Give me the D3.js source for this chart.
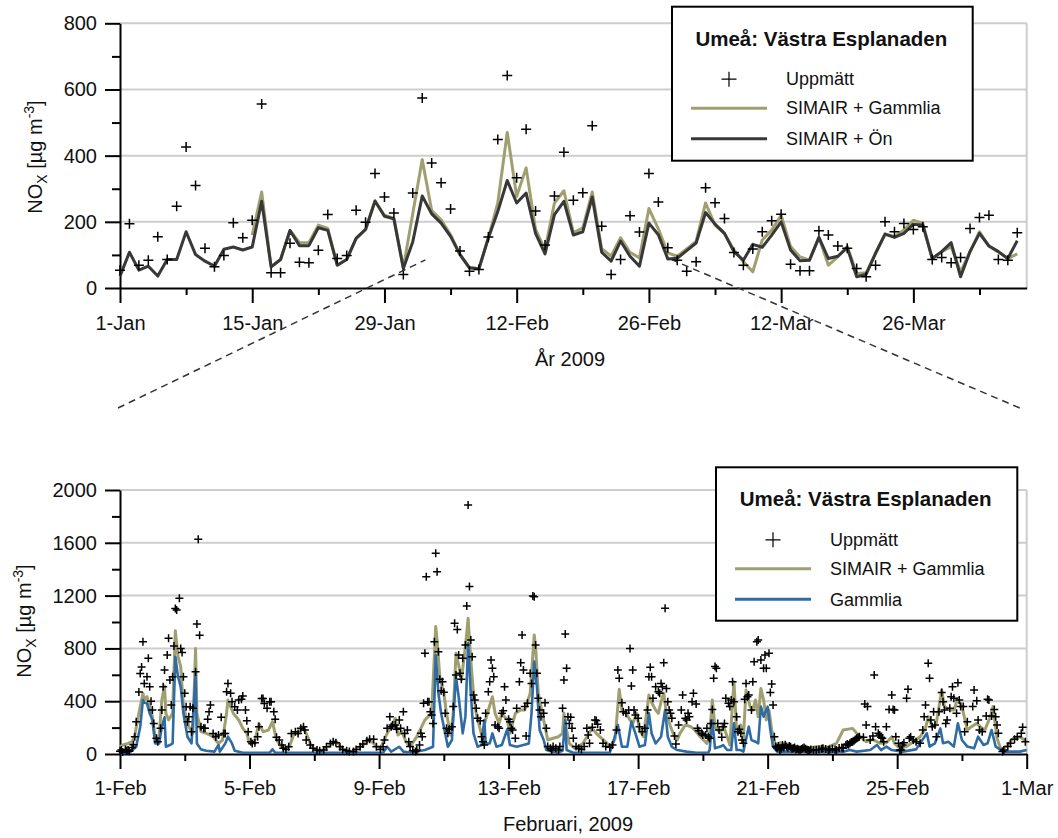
<!DOCTYPE html>
<html>
<head>
<meta charset="utf-8">
<script src="https://cdn.jsdelivr.net/npm/d3@7"></script>
<style>
  body { margin: 0; background: #fff; }
  svg { display: block; font-family: "Liberation Sans", Arial, Helvetica, sans-serif; }
</style>
</head>
<body>
<svg id="chart" width="1058" height="838"></svg>
<script>
// ---------- Daily means, 1 Jan – 6 Apr 2009 (µg/m3) ----------
const dailyStart = new Date(2009, 0, 1);

const measuredDaily = [
  54, 194, 69, 84, 155, 86, 247, 426, 310, 120,
  64, 98, 197, 152, 205, 556, 46, 46, 135, 78,
  76, 114, 222, 89, 98, 235, 199, 346, 275, 227,
  41, 287, 574, 378, 318, 239, 112, 51, 56, 154,
  449, 642, 333, 480, 233, 130, 278, 410, 265, 288,
  490, 187, 41, 86, 218, 169, 346, 260, 122, 84,
  51, 79, 303, 258, 210, 107, 69, 118, 170, 203,
  223, 72, 52, 52, 173, 160, 127, 120, 59, 34,
  69, 200, 170, 195, 177, 185, 86, 92, 76, 92,
  180, 213, 220, 86, 84, 167
];

const simairGammliaDaily = [
  null, null, null, null, null, null, null, null, null, null,
  null, null, null, null, 160, 290, 64, 86, 174, 137,
  137, 190, 180, 69, 86, 150, 177, 263, 220, 210,
  61, 225, 388, 234, 206, 161, 101, 61, 58, 151,
  257, 470, 277, 363, 177, 116, 257, 294, 167, 182,
  290, 119, 96, 152, 108, 91, 240, 179, 106, 96,
  118, 141, 257, 190, 165, 115, 79, 49, 145, 175,
  220, 125, 94, 84, 153, 69, 94, 125, 44, 46,
  105, 163, 155, 175, 205, 195, 89, 110, 125, 49,
  110, 170, 127, 110, 89, 103
];

const simairOnDaily = [
  36, 108, 54, 66, 36, 86, 86, 170, 101, 81,
  66, 117, 124, 115, 124, 262, 64, 86, 174, 128,
  128, 182, 174, 69, 86, 150, 177, 263, 217, 209,
  59, 140, 278, 224, 196, 156, 101, 61, 58, 151,
  231, 325, 257, 287, 165, 103, 222, 262, 160, 170,
  275, 108, 81, 142, 96, 66, 196, 161, 88, 90,
  113, 136, 228, 193, 165, 110, 84, 132, 123, 160,
  200, 115, 82, 84, 153, 89, 96, 122, 34, 41,
  105, 163, 153, 165, 193, 190, 89, 110, 137, 34,
  110, 165, 127, 110, 89, 143
];

// ---------- Hourly values, February 2009: [hours after 1 Feb 00:00, µg/m3] ----------
const hourlyStart = new Date(2009, 1, 1);

const measuredHourly = [
  [0,20],[1,30],[2,15],[4,35],[5,25],[6,30],[7,20],[9,50],[10,70],[11,130],[12,245],[14,470],[15,610],[16,660],[17,850],[18,535],[20,585],[21,725],[22,510],[23,400],
  [24,333],[25,232],[27,119],[28,93],[30,195],[31,333],[32,510],[33,636],[35,750],[36,876],[37,560],[38,371],[39,585],[40,818],[41,1103],[42,1090],[44,1180],[45,800],[46,768],[47,585],
  [48,460],[49,358],[50,245],[51,283],[52,358],[53,169],[54,346],[56,624],[57,985],[58,1626],[59,900],[60,207],[62,195],[63,195],[65,263],[66,320],[67,371],[69,156],[71,131],
  [73,143],[75,278],[77,156],[78,156],[79,472],[80,535],[82,460],[83,396],[85,358],[87,333],[88,409],[90,414],[91,440],[93,333],[94,252],[95,169],
  [97,93],[98,80],[100,86],[102,131],[103,207],[105,421],[106,421],[107,383],[109,346],[111,396],[112,396],[114,320],[115,263],[116,126],[118,106],
  [120,68],[121,43],[123,35],[125,55],[127,156],[130,169],[132,156],[134,195],[136,207],[137,181],[138,106],[141,68],[143,43],
  [146,30],[148,25],[151,30],[153,55],[156,80],[158,93],[160,86],[163,55],[165,35],[168,25],
  [170,18],[173,18],[175,35],[178,55],[180,76],[183,101],[185,111],[188,111],[190,55],
  [193,35],[195,55],[196,106],[198,195],[200,283],[201,207],[202,220],[204,220],[205,187],[207,258],[208,195],[210,320],[211,156],[213,181],[214,93],
  [215,56],[217,25],[219,18],[220,30],[222,68],[223,157],[224,131],[225,384],[226,763],[227,1343],[228,396],[229,396],[230,320],[231,295],[232,232],[233,851],[234,1520],[235,1381],[236,775],[237,566],[238,480],[239,548],
  [240,467],[241,308],[242,195],[243,157],[244,187],[246,207],[247,359],[248,990],[249,598],[250,944],[251,750],[252,611],[253,566],[254,725],[256,826],[257,1121],[258,1886],[259,1268],[260,864],[261,737],[262,447],[263,409],
  [264,346],[265,270],[267,252],[268,131],[269,93],[270,68],[271,308],[273,472],[274,548],[275,712],[276,649],[277,586],[278,220],[280,207],[281,195],[283,308],[284,328],[285,510],[286,409],
  [288,263],[289,245],[290,195],[291,182],[293,119],[294,346],[296,548],[297,692],[298,902],[299,636],[300,359],[301,136],[302,384],[304,611],[305,535],[306,1197],[307,1192],[308,826],[309,611],[310,422],[311,333],
  [312,283],[314,308],[315,389],[316,195],[317,56],[319,43],[320,30],[321,56],[323,43],[325,30],[326,56],[328,346],[329,561],[330,909],[331,649],[332,283],[333,232],[334,278],[335,195],
  [336,119],[338,56],[340,43],[342,35],[344,56],[346,195],[347,144],[348,81],[350,202],[352,258],[353,253],[354,225],[356,182],[358,81],
  [360,56],[363,51],[365,68],[368,182],[369,636],[370,573],[372,389],[373,320],[375,308],[377,333],[378,800],[379,515],[380,636],[381,333],[382,295],
  [384,270],[385,207],[387,169],[389,195],[391,333],[392,586],[393,657],[394,586],[395,422],[397,510],[399,472],[400,460],[401,535],[402,510],[403,692],[404,1104],[405,497],[406,396],[407,333],
  [408,308],[409,270],[411,136],[412,76],[414,220],[416,333],[417,447],[419,270],[420,258],[421,308],[422,283],[424,396],[425,460],[427,379],[428,195],[429,177],[431,157],
  [432,144],[434,144],[435,195],[436,131],
  [437,119],[438,232],[439,338],[440,573],[441,662],[442,649],[443,232],[444,182],[446,126],[447,207],[448,232],[449,422],[451,384],[452,359],[453,409],[454,548],[455,396],
  [457,283],[458,169],[459,187],[460,157],[461,106],[462,81],[463,414],[464,535],[465,434],[466,447],[468,333],[469,548],[470,699],[472,851],[473,864],[475,712],[477,649],[478,750],[479,649],
  [481,763],[482,465],[483,530],[484,371],[485,131],[486,56],[487,45],[488,60],[489,30],[490,40],[491,68],[492,50],[493,70],[494,56],[495,48],[496,61],[497,55],[498,40],[499,43],[500,50],[501,35],[502,40],[503,35],
  [504,30],[505,38],[506,43],[507,50],[508,40],[509,35],[510,30],[511,25],[512,35],[514,28],[516,30],[518,35],[520,40],[521,43],[523,38],[525,30],[526,35],
  [528,40],[530,35],[531,30],[533,45],[535,50],[536,43],[538,68],[539,75],[540,70],[541,81],[542,90],[543,93],[544,100],[545,110],[546,119],[547,125],[548,131],[551,126],
  [552,379],[553,220],[554,359],[556,106],[558,136],[559,598],[560,207],[562,157],[563,144],[564,126],[565,119],[566,93],[568,207],[570,338],[572,447],[573,338],[574,333],[575,131],
  [577,81],[578,30],[579,30],[580,68],[581,86],[583,422],[584,490],[585,119],[586,131],[588,106],[590,93],[593,81],[595,182],[596,283],[597,371],[599,687],
  [600,573],[601,258],[602,207],[603,321],[604,220],[605,131],[607,321],[609,465],[610,396],[611,333],[612,232],[613,258],[615,346],[616,434],[617,510],[618,422],[620,308],[621,540],[622,409],[623,359],
  [625,359],[626,169],[628,245],[632,359],[633,485],[635,404],[636,258],[637,182],[639,169],[642,288],[643,414],[644,409],[646,288],[648,338],
  [649,283],[650,220],[651,157],[654,18],[655,30],[658,56],[660,81],[663,111],[665,131],[668,157],[669,202],[671,93]
];

const simairGammliaHourly = [
  [0,55],[2,68],[6,80],[9,93],[11,144],[14,308],[17,460],[18,409],[20,434],[22,358],[24,283],[26,131],[29,131],[31,409],[33,515],[34,308],[36,258],[39,308],[41,934],[43,737],[45,662],[47,358],
  [51,207],[54,156],[56,800],[57,308],[60,169],[64,156],[69,131],[73,80],[76,106],[79,308],[80,409],[84,308],[88,258],[91,195],[94,156],[96,80],
  [100,106],[103,232],[106,169],[110,181],[113,245],[116,106],[120,55],[123,35],[126,68],[129,156],[132,156],[135,202],[138,156],[141,80],[144,35],
  [149,25],[154,55],[160,101],[165,35],[172,18],[180,68],[185,111],[189,68],[193,43],[198,156],[201,207],[204,270],[206,144],[209,169],[212,93],
  [215,56],[220,131],[226,258],[231,308],[234,965],[235,864],[237,586],[240,460],[242,308],[245,144],[247,308],[249,763],[251,674],[253,561],[256,813],[258,1028],[260,712],[262,460],
  [264,308],[268,144],[271,258],[273,333],[276,434],[278,308],[281,232],[283,308],[287,258],[289,156],[293,308],[297,333],[300,333],[304,460],[307,902],[308,813],[310,460],
  [313,308],[315,207],[317,106],[321,119],[325,131],[328,156],[329,308],[331,181],[333,80],[337,43],[343,80],[350,195],[353,156],[357,119],
  [361,80],[364,55],[367,119],[370,490],[372,333],[375,308],[378,258],[380,232],[383,308],[385,181],[388,131],[392,447],[393,409],[397,333],[399,308],[401,396],[403,460],[405,308],
  [408,207],[410,156],[413,106],[415,156],[419,220],[423,207],[426,181],[430,131],[435,80],
  [437,144],[439,409],[441,207],[445,157],[447,220],[450,131],[452,68],[455,548],[457,182],[460,220],[462,119],[464,485],[467,359],[469,333],[471,409],[473,283],[475,497],[477,409],[479,258],
  [481,333],[483,182],[486,56],[489,86],[494,68],[501,56],[509,43],[516,56],[524,51],[531,81],[536,182],[543,194],[546,157],[553,93],[558,111],[563,81],[568,86],[572,131],[574,81],[578,43],
  [583,56],[588,93],[593,131],[597,194],[599,283],[602,207],[605,232],[609,485],[611,359],[615,333],[618,333],[621,422],[624,359],[628,182],[631,207],[635,232],[639,194],[641,182],
  [645,283],[647,359],[650,119],[653,30],[657,56],[662,119],[667,131],[672,93]
];

const gammliaHourly = [
  [0,5],[7,10],[12,55],[15,207],[17,409],[18,389],[20,384],[22,308],[24,258],[26,80],[29,80],[31,207],[33,278],[34,55],[37,68],[39,80],[41,737],[43,586],[45,510],[47,308],
  [50,131],[53,80],[56,611],[57,80],[60,35],[64,25],[70,18],[73,68],[74,18],[78,80],[80,131],[83,80],[85,25],[91,10],[111,10],[113,35],[115,10],
  [195,10],[198,55],[201,18],[207,55],[210,18],
  [215,10],[226,30],[232,55],[234,750],[236,460],[238,308],[241,156],[243,55],[246,106],[249,586],[251,434],[254,156],[256,283],[258,838],[260,460],[262,156],
  [265,55],[268,68],[270,258],[271,80],[274,80],[276,156],[279,55],[283,68],[287,187],[289,68],[294,55],[299,68],[303,80],[305,308],[307,700],[309,510],[311,181],
  [314,106],[316,30],[324,10],[328,25],[330,258],[331,30],[336,10],[363,10],[366,106],[369,220],[372,55],[376,55],[379,245],[382,156],[385,55],[389,68],
  [392,308],[394,156],[397,80],[401,131],[404,333],[406,131],[409,55],[413,30],[420,18],[427,10],[436,10],
  [437,30],[439,258],[441,43],[445,56],[447,68],[450,30],[453,30],[455,232],[457,30],[460,30],[462,18],[466,207],[468,106],[471,93],[473,81],[475,359],[477,283],[479,333],[480,359],
  [482,182],[484,56],[487,18],[536,18],[541,30],[546,18],[556,30],[561,68],[564,30],[568,56],[572,30],[580,18],[590,35],[598,157],[600,56],[604,81],[608,194],[610,81],
  [614,93],[618,56],[621,232],[624,106],[628,56],[633,43],[636,131],[640,68],[643,81],[646,182],[649,56],[655,18],[667,18],[672,30]
];

// ---------- Axis ticks and labels ----------
const topYTicks = [0, 200, 400, 600, 800];
const topYMinor = [100, 300, 500, 700];
const topXTicks = [[2009,0,1],[2009,0,15],[2009,0,29],[2009,1,12],[2009,1,26],[2009,2,12],[2009,2,26]];
const topXMinor = [[2009,0,8],[2009,0,22],[2009,1,5],[2009,1,19],[2009,2,5],[2009,2,19],[2009,3,2]];
const botYTicks = [0, 400, 800, 1200, 1600, 2000];
const botYMinor = [200, 600, 1000, 1400, 1800];
const botXTicks = [[2009,1,1],[2009,1,5],[2009,1,9],[2009,1,13],[2009,1,17],[2009,1,21],[2009,1,25],[2009,2,1]];
const botXMinor = [[2009,1,3],[2009,1,7],[2009,1,11],[2009,1,15],[2009,1,19],[2009,1,23],[2009,1,27]];

const legendTitle = "Umeå: Västra Esplanaden";
const topSeriesNames = ["Uppmätt", "SIMAIR + Gammlia", "SIMAIR + Ön"];
const botSeriesNames = ["Uppmätt", "SIMAIR + Gammlia", "Gammlia"];
const topXTitle = "År 2009";
const botXTitle = "Februari, 2009";

// ---------- Styles ----------
const C_OLIVE = "#a09f70";
const C_DARK = "#383838";
const C_BLUE = "#2f6ba4";
const C_GRID = "#cdcdcd";
const FS_TICK = 20;

const svg = d3.select("#chart");
const toDate = a => new Date(a[0], a[1], a[2]);
const fmt = d3.timeFormat("%-d-%b");
const fmtY = d3.format("d");

// ---------- Scales ----------
const xTop = d3.scaleTime().domain([new Date(2009,0,1), new Date(2009,3,7)]).range([120, 1026.7]);
const yTop = d3.scaleLinear().domain([0, 800]).range([288, 23.3]);
const xBot = d3.scaleTime().domain([new Date(2009,1,1), new Date(2009,2,1)]).range([120, 1026.7]);
const yBot = d3.scaleLinear().domain([0, 2000]).range([754, 490]);

function drawFrame(x, y, yTicks, yMinor, xTicks, xMinor, gridVals, xPad) {
  const g = svg.append("g");
  const [xa, xb] = x.range();
  const [y0, y1] = y.range();
  // gridlines
  g.selectAll("line.grid").data(gridVals).join("line")
    .attr("x1", xa).attr("x2", xb)
    .attr("y1", d => y(d)).attr("y2", d => y(d))
    .attr("stroke", C_GRID).attr("stroke-width", 2);
  // right frame edge
  g.append("line").attr("x1", xb).attr("x2", xb).attr("y1", y0).attr("y2", y1)
    .attr("stroke", C_GRID).attr("stroke-width", 2);

  const style = sel => {
    sel.selectAll("path.domain").attr("stroke", "#000").attr("stroke-width", 2);
    sel.selectAll(".tick line").attr("stroke", "#000").attr("stroke-width", 2);
    sel.selectAll("text").attr("font-size", FS_TICK).attr("fill", "#111")
      .attr("font-family", "'Liberation Sans', Arial, sans-serif");
  };
  // x axis
  const gx = g.append("g").attr("transform", `translate(0,${y0})`)
    .call(d3.axisBottom(x).tickValues(xTicks.map(toDate)).tickFormat(fmt)
      .tickSize(15).tickSizeOuter(0).tickPadding(xPad));
  style(gx);
  const gxm = g.append("g").attr("transform", `translate(0,${y0})`)
    .call(d3.axisBottom(x).tickValues(xMinor.map(toDate)).tickFormat("").tickSize(7).tickSizeOuter(0));
  gxm.select("path.domain").remove();
  style(gxm);
  // y axis
  const gy = g.append("g").attr("transform", `translate(${xa},0)`)
    .call(d3.axisLeft(y).tickValues(yTicks).tickFormat(fmtY).tickSize(15).tickSizeOuter(0).tickPadding(8));
  style(gy);
  const gym = g.append("g").attr("transform", `translate(${xa},0)`)
    .call(d3.axisLeft(y).tickValues(yMinor).tickFormat("").tickSize(8).tickSizeOuter(0));
  gym.select("path.domain").remove();
  style(gym);
  return g;
}

function yTitle(xPos, yCenter) {
  const t = svg.append("text")
    .attr("transform", `translate(${xPos},${yCenter}) rotate(-90)`)
    .attr("text-anchor", "middle").attr("font-size", FS_TICK).attr("fill", "#111");
  t.append("tspan").text("NO");
  t.append("tspan").attr("font-size", 14).attr("dy", 5).text("X");
  t.append("tspan").attr("dy", -5).text(" [µg m");
  t.append("tspan").attr("font-size", 14).attr("dy", -8).text("-3");
  t.append("tspan").attr("dy", 8).text("]");
}

const crossPath = r => `M${-r},0H${r}M0,${-r}V${r}`;

// ---------- Top panel: daily means ----------
drawFrame(xTop, yTop, topYTicks, topYMinor, topXTicks, topXMinor, [200, 400, 600, 800], 13);

const daily = measuredDaily.map((v, i) => ({
  date: d3.timeDay.offset(dailyStart, i),
  meas: v, gam: simairGammliaDaily[i], on: simairOnDaily[i]
}));

const lineGam = d3.line().defined(d => d.gam != null).x(d => xTop(d.date)).y(d => yTop(d.gam));
const lineOn = d3.line().x(d => xTop(d.date)).y(d => yTop(d.on));

svg.append("path").datum(daily).attr("d", lineGam)
  .attr("fill", "none").attr("stroke", C_OLIVE).attr("stroke-width", 3).attr("stroke-linejoin", "round");
svg.append("path").datum(daily).attr("d", lineOn)
  .attr("fill", "none").attr("stroke", C_DARK).attr("stroke-width", 3).attr("stroke-linejoin", "round");
svg.append("g").selectAll("path").data(daily).join("path")
  .attr("transform", d => `translate(${xTop(d.date)},${yTop(d.meas)})`)
  .attr("d", crossPath(5)).attr("stroke", "#000").attr("stroke-width", 1.5).attr("fill", "none");

yTitle(42, 157);
svg.append("text").attr("x", 570).attr("y", 366).attr("text-anchor", "middle")
  .attr("font-size", FS_TICK).attr("fill", "#111").text(topXTitle);

// ---------- Bottom panel: hourly values ----------
drawFrame(xBot, yBot, botYTicks, botYMinor, botXTicks, botXMinor, [400, 800, 1200, 1600, 2000], 12);

const hx = h => xBot(d3.timeHour.offset(hourlyStart, h));
const lineH = d3.line().x(d => hx(d[0])).y(d => yBot(d[1]));

svg.append("path").datum(simairGammliaHourly).attr("d", lineH)
  .attr("fill", "none").attr("stroke", C_OLIVE).attr("stroke-width", 3).attr("stroke-linejoin", "round");
svg.append("path").datum(gammliaHourly).attr("d", lineH)
  .attr("fill", "none").attr("stroke", C_BLUE).attr("stroke-width", 2.6).attr("stroke-linejoin", "round");
svg.append("g").selectAll("path").data(measuredHourly).join("path")
  .attr("transform", d => `translate(${hx(d[0])},${yBot(d[1])})`)
  .attr("d", crossPath(4)).attr("stroke", "#000").attr("stroke-width", 1.5).attr("fill", "none");

yTitle(31, 621);
svg.append("text").attr("x", 568).attr("y", 831).attr("text-anchor", "middle")
  .attr("font-size", FS_TICK).attr("fill", "#111").text(botXTitle);

// ---------- Zoom connectors (Feb in top panel -> bottom panel) ----------
const connY = 408;
const connectors = [
  [[xBot.range()[0] - 2, connY], [xTop(new Date(2009,1,2,8)), yTop(85)]],
  [[xBot.range()[1] - 7, connY], [xTop(new Date(2009,1,28,5)), yTop(88)]]
];
svg.append("g").selectAll("line").data(connectors).join("line")
  .attr("x1", d => d[0][0]).attr("y1", d => d[0][1])
  .attr("x2", d => d[1][0]).attr("y2", d => d[1][1])
  .attr("stroke", "#333").attr("stroke-width", 1.5).attr("stroke-dasharray", "7,5");

// ---------- Legends ----------
function legend(x0, y0, w, h, names, colors) {
  const g = svg.append("g").attr("transform", `translate(${x0},${y0})`);
  g.append("rect").attr("width", w).attr("height", h)
    .attr("fill", "#fff").attr("stroke", "#000").attr("stroke-width", 2);
  g.append("text").attr("x", w / 2 - 1).attr("y", 39).attr("text-anchor", "middle")
    .attr("font-size", 20.5).attr("font-weight", "bold").attr("fill", "#111").text(legendTitle);
  const rowY = [72.5, 101.5, 132];
  const sx0 = 19, sx1 = 95, tx = 114;
  g.append("path").attr("transform", `translate(${(sx0 + sx1) / 2},${rowY[0]})`)
    .attr("d", crossPath(7.5)).attr("stroke", "#000").attr("stroke-width", 1.2);
  [1, 2].forEach(i => {
    g.append("line").attr("x1", sx0).attr("x2", sx1).attr("y1", rowY[i]).attr("y2", rowY[i])
      .attr("stroke", colors[i]).attr("stroke-width", 3);
  });
  names.forEach((n, i) => {
    g.append("text").attr("x", tx).attr("y", rowY[i]).attr("dy", "0.35em")
      .attr("font-size", 18).attr("fill", "#111").text(n);
  });
}
legend(672, 6.7, 300.7, 154, topSeriesNames, [null, C_OLIVE, C_DARK]);
legend(716, 467.3, 301.3, 153.4, botSeriesNames, [null, C_OLIVE, C_BLUE]);
</script>
</body>
</html>
